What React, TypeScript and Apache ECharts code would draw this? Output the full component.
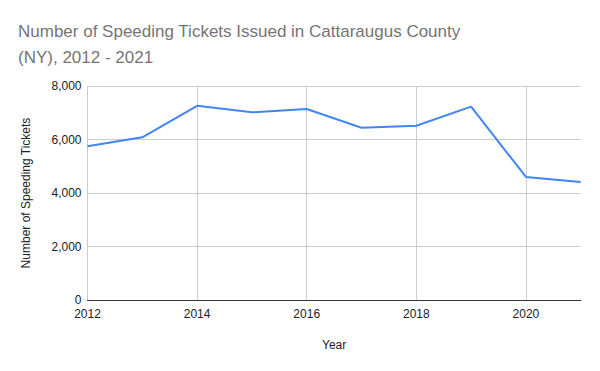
import React, { useEffect, useRef } from "react";
import * as echarts from "echarts";

const years = ["2012", "2013", "2014", "2015", "2016", "2017", "2018", "2019", "2020", "2021"];
const tickets = [5750, 6080, 7260, 7015, 7140, 6440, 6515, 7230, 4600, 4410];
const titleText = "Number of Speeding Tickets Issued in Cattaraugus County\n(NY), 2012 - 2021";
const font = "'Liberation Sans', Arial, sans-serif";

export default function App() {
  const ref = useRef<HTMLDivElement>(null);
  useEffect(() => {
    const chart = echarts.init(ref.current!, null, { renderer: "svg" });
    chart.setOption({
      animation: false,
      backgroundColor: "#fff",
      title: {
        text: titleText,
        left: 18,
        top: 19,
        padding: 0,
        textStyle: { fontFamily: font, fontSize: 17, fontWeight: "normal", color: "#757575", lineHeight: 25.5 },
      },
      grid: { left: 87.5, right: 19.3, top: 86, bottom: 71, containLabel: false },
      xAxis: {
        type: "category",
        data: years,
        boundaryGap: false,
        name: "Year",
        nameLocation: "middle",
        nameGap: 39,
        nameTextStyle: { fontFamily: font, fontSize: 12, color: "#222" },
        axisLine: { lineStyle: { color: "#333", width: 1 } },
        axisTick: { show: false },
        axisLabel: { interval: 1, fontFamily: font, fontSize: 12, color: "#222", margin: 8 },
        splitLine: { show: true, interval: 1, lineStyle: { color: "#ccc", width: 1 } },
      },
      yAxis: {
        type: "value",
        min: 0,
        max: 8000,
        interval: 2000,
        name: "Number of Speeding Tickets",
        nameLocation: "middle",
        nameGap: 56,
        nameTextStyle: { fontFamily: font, fontSize: 12, color: "#222" },
        axisLine: { show: false },
        axisTick: { show: false },
        axisLabel: {
          fontFamily: font,
          fontSize: 12,
          color: "#222",
          margin: 6,
          formatter: (v: number) => v.toLocaleString("en-US"),
        },
        splitLine: { lineStyle: { color: "#ccc", width: 1 } },
      },
      series: [
        {
          type: "line",
          data: tickets,
          showSymbol: false,
          symbol: "none",
          lineStyle: { color: "#4285F4", width: 2 },
          itemStyle: { color: "#4285F4" },
        },
      ],
    });
    return () => chart.dispose();
  }, []);
  return <div ref={ref} style={{ width: 600, height: 371, position: "absolute", left: 0, top: 0 }} />;
}
